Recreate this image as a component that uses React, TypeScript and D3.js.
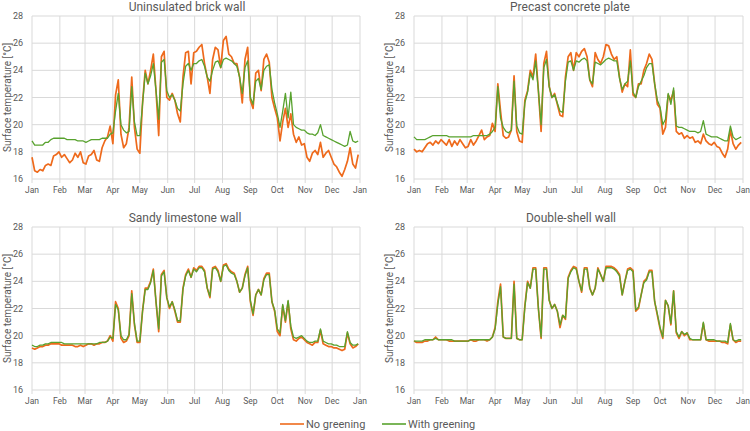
import React from "react";
import * as d3 from "d3";

// ---------- data ----------
const MONTH_LABELS = ["Jan", "Feb", "Mar", "Apr", "May", "Jun", "Jul", "Aug", "Sep", "Oct", "Nov", "Dec", "Jan"];
const MONTH_START_DAYS = [0, 31, 59, 90, 120, 151, 181, 212, 243, 273, 304, 334, 365];
const Y_TICKS = [16, 18, 20, 22, 24, 26, 28];
const STEP_DAYS = 3; // values sampled every 3 days, starting Jan 1
const SERIES_NAMES = ["No greening", "With greening"];
const PANEL_TITLES = ["Uninsulated brick wall", "Precast concrete plate", "Sandy limestone wall", "Double-shell wall"];

const BRICK_NO = [
  17.6, 16.6, 16.5, 16.7, 16.6, 17.0, 17.1, 17.0, 17.7, 17.8,
  18.0, 17.6, 17.8, 17.5, 17.2, 17.4, 17.9, 17.6, 18.0, 17.2,
  17.1, 17.7, 17.8, 18.1, 17.4, 17.3, 18.3, 18.8, 19.1, 19.9,
  18.6, 22.2, 23.3, 19.3, 18.3, 18.6, 19.8, 23.5, 19.8, 18.2,
  17.9, 21.6, 24.0, 23.0, 24.0, 25.2, 22.5, 19.2, 25.0, 25.4,
  22.0, 21.8, 22.3, 21.8, 20.8, 20.2, 23.5, 25.3, 25.4, 23.0,
  25.3, 25.4, 25.7, 25.9, 24.5, 23.5, 22.3, 24.8, 25.7, 25.5,
  24.2, 26.2, 26.5, 25.2, 25.0, 24.5, 24.5, 23.5, 21.6, 24.8,
  25.7, 21.8, 21.2, 23.8, 24.0, 22.5, 24.8, 25.2, 24.6, 22.0,
  21.2, 20.5, 18.8, 20.2, 21.2, 19.8, 20.8, 19.3, 18.7, 19.1,
  18.5, 18.6, 17.6, 17.3, 17.9, 18.1, 17.8, 18.7, 17.6, 17.9,
  18.1, 17.6, 17.1, 16.9, 16.5, 16.2, 16.7, 17.3, 18.3, 17.1,
  16.8, 17.8,
];
const BRICK_WITH = [
  18.8, 18.5, 18.5, 18.5, 18.5, 18.7, 18.7, 18.9, 19.0, 19.0,
  19.0, 19.0, 19.0, 18.9, 18.9, 18.9, 18.9, 18.8, 18.8, 18.8,
  18.7, 18.8, 18.9, 18.9, 18.9, 18.9, 19.0, 19.0, 19.0, 19.3,
  19.4, 21.0, 22.3, 20.0, 19.6, 19.4, 19.5, 22.8, 20.2, 19.2,
  19.2, 21.5, 23.8, 23.0, 23.6, 24.5, 22.5, 20.4, 24.6, 24.8,
  22.5, 22.0, 22.2, 21.8, 21.2, 21.0, 23.0, 24.3, 24.5, 24.0,
  24.5, 24.5, 24.7, 24.8, 24.3, 23.5, 23.2, 24.0, 24.6, 24.7,
  24.2, 24.8, 24.9, 24.8, 24.7, 24.5, 24.3, 23.5, 22.3, 24.2,
  24.7, 22.0, 21.5, 23.2, 23.4, 22.6, 24.0, 24.3, 24.4, 22.6,
  21.6, 20.8, 19.8, 21.0, 22.3, 20.5, 22.4, 20.0, 19.8, 19.7,
  19.6, 19.6, 19.4, 19.3, 19.3, 19.2, 19.4, 20.0, 19.2, 19.1,
  19.0, 18.9, 18.8, 18.7, 18.6, 18.5, 18.4, 18.5, 19.5, 18.8,
  18.7, 18.8,
];
const CONCRETE_NO = [
  18.2, 18.0, 18.1, 18.0, 18.3, 18.6, 18.7, 18.5, 18.8, 18.6,
  18.9, 18.7, 18.5, 18.9, 18.4, 18.8, 18.5, 18.9, 18.6, 18.3,
  18.4, 18.9, 18.5, 18.8, 19.2, 19.6, 18.9, 19.1, 19.2, 20.1,
  19.5, 23.0, 21.0, 19.2, 19.0, 19.1, 19.6, 23.6, 19.5, 18.8,
  18.7, 21.8, 22.5, 24.0, 23.5, 25.2, 22.5, 19.5, 24.5, 25.4,
  22.8, 22.0, 22.3, 21.5, 20.7, 20.6, 23.5, 25.0, 25.3, 24.0,
  25.3, 25.0, 25.4, 25.6, 25.0, 23.3, 22.8, 25.3, 24.8, 24.5,
  25.0, 25.9, 25.8, 25.2, 24.8, 25.0, 23.5, 22.4, 23.0, 22.8,
  25.5, 22.2, 22.0, 23.0, 23.0, 24.0, 24.5, 25.2, 24.8, 23.0,
  21.5, 21.2, 19.3, 19.8, 22.2, 21.8, 22.5, 19.5, 19.3, 19.4,
  19.0, 19.2, 19.0, 19.1, 18.7, 18.8, 18.6, 19.3, 18.8, 18.6,
  18.5, 18.7, 18.4, 18.3, 17.9, 17.6, 18.2, 19.6, 18.6, 18.2,
  18.5, 18.7,
];
const CONCRETE_WITH = [
  19.1, 18.9, 18.9, 18.9, 18.9, 19.0, 19.1, 19.2, 19.2, 19.2,
  19.2, 19.2, 19.2, 19.1, 19.1, 19.1, 19.1, 19.1, 19.1, 19.1,
  19.1, 19.1, 19.2, 19.2, 19.2, 19.2, 19.2, 19.2, 19.3, 19.5,
  19.8, 22.8, 20.5, 19.8, 19.5, 19.4, 19.6, 23.2, 19.9, 19.4,
  19.3, 21.6, 22.4, 23.8, 23.3, 24.7, 22.5, 20.0, 24.2, 24.8,
  22.8, 22.0, 22.2, 21.6, 21.0, 20.9, 23.2, 24.6, 24.7, 24.0,
  24.7, 24.6, 24.8, 24.9, 24.7, 23.3, 23.0, 24.6, 24.5, 24.4,
  24.6, 24.8, 24.9, 24.8, 24.7, 24.7, 23.4, 22.6, 23.0, 23.2,
  24.7, 22.4, 22.0, 22.8, 23.2, 23.6, 24.2, 24.5, 24.5, 23.0,
  21.8, 21.3, 20.0, 20.4, 22.3, 21.5, 22.7, 19.9, 19.8, 19.8,
  19.7, 19.6, 19.5, 19.5, 19.5, 19.4, 19.5, 20.3, 19.3, 19.2,
  19.1, 19.1, 19.1, 19.0, 18.9, 18.8, 18.8, 19.9, 19.1, 18.9,
  19.0, 19.1,
];
const LIMESTONE_NO = [
  19.1, 19.0, 19.1, 19.2, 19.2, 19.3, 19.3, 19.4, 19.4, 19.4,
  19.4, 19.3, 19.3, 19.3, 19.3, 19.3, 19.2, 19.2, 19.3, 19.2,
  19.3, 19.4, 19.4, 19.3, 19.4, 19.4, 19.5, 19.5, 19.6, 20.0,
  19.6, 22.5, 22.0, 19.8, 19.5, 19.6, 20.0, 23.3, 20.8, 19.5,
  19.5, 21.8, 23.5, 23.5, 24.0, 24.9, 22.5, 20.3, 24.5, 24.8,
  22.8, 22.0, 22.5, 21.8, 21.0, 21.0, 23.5, 24.5, 24.9, 24.3,
  25.0, 24.8, 25.1, 25.1, 24.8, 23.5, 22.8, 25.0, 25.1, 24.8,
  24.0, 25.2, 25.3, 24.9, 24.7, 24.6, 24.0, 23.2, 23.5, 24.5,
  25.1, 22.5, 21.5, 23.0, 23.4, 23.0, 24.2, 24.6, 24.6, 22.5,
  21.8, 20.3, 20.0, 22.2, 21.0, 22.5, 20.5, 19.7, 19.6, 19.8,
  19.9, 19.7, 19.5, 19.4, 19.3, 19.5, 19.5, 20.4, 19.4, 19.3,
  19.2, 19.2, 19.1, 19.1, 19.0, 18.9, 19.0, 20.2, 19.4, 19.1,
  19.2, 19.4,
];
const LIMESTONE_WITH = [
  19.3, 19.2, 19.2, 19.3, 19.3, 19.4, 19.4, 19.5, 19.5, 19.5,
  19.5, 19.5, 19.4, 19.4, 19.4, 19.4, 19.4, 19.4, 19.4, 19.4,
  19.4, 19.4, 19.4, 19.4, 19.4, 19.5, 19.5, 19.5, 19.6, 19.9,
  19.8, 22.3, 21.9, 20.0, 19.7, 19.7, 20.1, 23.1, 20.9, 19.6,
  19.6, 21.8, 23.4, 23.4, 23.9, 24.8, 22.5, 20.5, 24.4, 24.7,
  22.8, 22.1, 22.5, 21.9, 21.1, 21.1, 23.4, 24.4, 24.8, 24.3,
  24.9, 24.7, 25.0, 25.0, 24.7, 23.5, 22.9, 24.9, 25.0, 24.7,
  24.0, 25.1, 25.2, 24.8, 24.6, 24.5, 24.0, 23.2, 23.5, 24.4,
  25.0, 22.6, 21.6, 23.0, 23.4, 23.0, 24.1, 24.5, 24.5, 22.5,
  21.9, 20.5, 20.2, 22.3, 21.1, 22.6, 20.7, 19.9, 19.8, 19.9,
  20.0, 19.8, 19.6, 19.5, 19.5, 19.6, 19.6, 20.5, 19.6, 19.5,
  19.4, 19.4, 19.3, 19.3, 19.2, 19.2, 19.2, 20.3, 19.5, 19.3,
  19.3, 19.4,
];
const DOUBLE_NO = [
  19.6, 19.5, 19.5, 19.5, 19.6, 19.6, 19.7, 19.7, 19.9, 19.7,
  19.7, 19.7, 19.7, 19.6, 19.6, 19.6, 19.6, 19.6, 19.6, 19.6,
  19.6, 19.7, 19.6, 19.6, 19.7, 19.7, 19.7, 19.6, 19.7, 19.9,
  20.6, 22.5, 23.8, 19.9, 19.8, 19.8, 19.8, 24.0, 19.8, 19.7,
  19.7, 22.2, 24.0, 23.5, 25.0, 25.0, 22.0, 19.8, 25.0, 25.0,
  22.6, 22.0, 22.3, 21.8, 20.6, 21.5, 21.2, 24.3, 24.8, 25.1,
  25.0, 24.0, 23.2, 25.0, 25.0, 23.5, 23.0, 23.5, 25.0, 24.5,
  24.0, 25.1, 25.1, 25.1, 25.0, 24.8, 24.5, 23.0, 24.0, 24.9,
  25.0, 24.8, 21.8, 22.0, 23.0, 24.0, 24.2, 24.8, 24.8, 22.5,
  21.5, 20.5, 19.8, 22.6, 22.2, 20.8, 23.3, 20.2, 19.8, 20.3,
  20.0, 20.2, 19.7, 19.7, 19.7, 19.7, 19.7, 20.9, 19.7, 19.6,
  19.6, 19.6, 19.6, 19.6, 19.5, 19.5, 19.4, 20.8, 19.7, 19.5,
  19.6, 19.6,
];
const DOUBLE_WITH = [
  19.6, 19.6, 19.6, 19.6, 19.7, 19.7, 19.7, 19.7, 19.8, 19.7,
  19.7, 19.7, 19.7, 19.7, 19.7, 19.6, 19.6, 19.6, 19.6, 19.6,
  19.6, 19.7, 19.7, 19.7, 19.7, 19.7, 19.7, 19.7, 19.7, 19.9,
  20.5, 22.3, 23.6, 19.9, 19.8, 19.8, 19.8, 23.8, 19.8, 19.7,
  19.7, 22.1, 23.9, 23.5, 24.9, 24.9, 22.0, 19.9, 24.9, 24.9,
  22.6, 22.0, 22.3, 21.8, 20.8, 21.5, 21.3, 24.2, 24.7, 25.0,
  24.9, 24.0, 23.3, 24.9, 24.9, 23.5, 23.0, 23.5, 24.9, 24.5,
  24.0, 25.0, 25.0, 25.0, 24.9, 24.7, 24.4, 23.0, 24.0, 24.8,
  24.9, 24.7, 21.9, 22.1, 23.0, 23.9, 24.1, 24.7, 24.7, 22.5,
  21.6, 20.6, 19.9, 22.6, 22.2, 20.9, 23.3, 20.3, 19.9, 20.3,
  20.1, 20.2, 19.8, 19.7, 19.7, 19.7, 19.7, 21.0, 19.7, 19.7,
  19.7, 19.7, 19.6, 19.6, 19.6, 19.6, 19.5, 20.9, 19.7, 19.6,
  19.7, 19.7,
];

// ---------- layout / style ----------
const W = 750;
const H = 431;
const ORANGE = "#EE6A1C";
const GREEN = "#58A22E";
const GRID = "#D9D9D9";
const TEXT = "#595959";
const FONT = "Roboto, 'Open Sans', 'Liberation Sans', sans-serif";

const PANEL_BOXES = [
  { left: 32, right: 360, top: 16, bottom: 179, titleX: 187, yTitleX: 7 },
  { left: 414, right: 743, top: 16, bottom: 179, titleX: 570, yTitleX: 389 },
  { left: 32, right: 360, top: 227, bottom: 390, titleX: 185, yTitleX: 7 },
  { left: 414, right: 743, top: 227, bottom: 390, titleX: 571, yTitleX: 389 },
];
const PANEL_DATA = [
  [BRICK_NO, BRICK_WITH],
  [CONCRETE_NO, CONCRETE_WITH],
  [LIMESTONE_NO, LIMESTONE_WITH],
  [DOUBLE_NO, DOUBLE_WITH],
];

function Panel({ idx }: { idx: number }) {
  const box = PANEL_BOXES[idx];
  const [noG, withG] = PANEL_DATA[idx];
  const x = d3.scaleLinear().domain([0, 365]).range([box.left, box.right]);
  const y = d3.scaleLinear().domain([16, 28]).range([box.bottom, box.top]);
  const line = d3
    .line<number>()
    .x((_, i) => x(i * STEP_DAYS))
    .y((v) => y(v));
  const midY = (box.top + box.bottom) / 2;
  return (
    <g>
      {Y_TICKS.map((t) => (
        <line key={"h" + t} x1={box.left} x2={box.right} y1={y(t)} y2={y(t)} stroke={GRID} strokeWidth={1} />
      ))}
      {MONTH_START_DAYS.map((d, i) => (
        <line key={"v" + i} x1={x(d)} x2={x(d)} y1={box.top} y2={box.bottom + 4} stroke={GRID} strokeWidth={1} />
      ))}
      {Y_TICKS.map((t) => (
        <text key={"yt" + t} x={box.left - 9} y={y(t)} dy="0.35em" textAnchor="end" fontSize={9} fill={TEXT} fontFamily={FONT}>
          {t}
        </text>
      ))}
      {MONTH_LABELS.map((m, i) => (
        <text key={"m" + i} x={x(MONTH_START_DAYS[i])} y={box.bottom + 11} dy="0.35em" textAnchor="middle" fontSize={8.5} fill={TEXT} fontFamily={FONT}>
          {m}
        </text>
      ))}
      <text
        transform={`translate(${box.yTitleX},${midY}) rotate(-90)`}
        textAnchor="middle"
        dy="0.35em"
        fontSize={10}
        fill={TEXT}
        fontFamily={FONT}
      >
        Surface temperature [°C]
      </text>
      <text x={box.titleX} y={box.top - 9} dy="0.35em" textAnchor="middle" fontSize={12} fontWeight={400} fill="#595959" fontFamily={FONT}>
        {PANEL_TITLES[idx]}
      </text>
      <path d={line(noG) || ""} fill="none" stroke={ORANGE} strokeWidth={1.7} strokeLinejoin="round" />
      <path d={line(withG) || ""} fill="none" stroke={GREEN} strokeWidth={1.3} strokeLinejoin="round" />
    </g>
  );
}

export default function App() {
  const legend = [
    { name: SERIES_NAMES[0], color: ORANGE, x: 280 },
    { name: SERIES_NAMES[1], color: GREEN, x: 382 },
  ];
  return (
    <svg width={W} height={H} style={{ display: "block", position: "absolute", left: 0, top: 0, background: "#fff" }}>
      {PANEL_BOXES.map((_, i) => (
        <Panel key={i} idx={i} />
      ))}
      {legend.map((l) => (
        <g key={l.name}>
          <line x1={l.x} x2={l.x + 24} y1={424} y2={424} stroke={l.color} strokeWidth={1.6} />
          <text x={l.x + 26} y={424} dy="0.35em" fontSize={11} fill={TEXT} fontFamily={FONT}>
            {l.name}
          </text>
        </g>
      ))}
    </svg>
  );
}
